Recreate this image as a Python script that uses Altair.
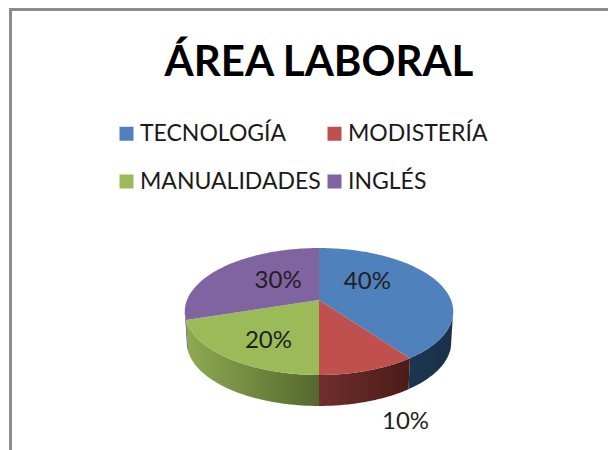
import math
import altair as alt

TITLE = "ÁREA LABORAL"
categories = ["TECNOLOGÍA", "MODISTERÍA", "MANUALIDADES", "INGLÉS"]
values = [40, 10, 20, 30]
colors = ["#4F81BD", "#C0504D", "#9BBB59", "#8064A2"]
wall_left = ["#1D3552", "#702E2C", "#8FAA52", "#4C3A63"]
wall_right = ["#1B3048", "#4A1C1A", "#55682F", "#4C3A63"]
label_nudges = [(-23, -7), (57, 80), (4, 6), (17, 1)]

# 3D perspective of the pie disc
PERSP, RY, RX = 0.181, 61.4, 132.0
DEPTH, BOTTOM_SCALE = 31.0, 0.985
VISIBLE_FROM, VISIBLE_TO = 100.0, 260.0
W, H = 600, 442
projection = dict(type="identity", scale=1, translate=[311, 292])


def disc(theta):
    u, v = math.sin(math.radians(theta)), -math.cos(math.radians(theta))
    w = 1 - PERSP * v
    return RX * u / w, RY * v / w


def arc(a, b):
    n = max(2, int(abs(b - a) / 1.5))
    return [a + (b - a) * i / n for i in range(n + 1)]


def feature(name, ring):
    ring = [list(p) for p in ring]
    return {"type": "Feature", "properties": {"name": name},
            "geometry": {"type": "Polygon", "coordinates": [ring + [ring[0]]]}}


total = sum(values)
bounds = [0.0]
for val in values:
    bounds.append(bounds[-1] + 360.0 * val / total)

tops, layers = [], []
for i, name in enumerate(categories):
    a, b = bounds[i], bounds[i + 1]
    tops.append(feature(name, [(0, 0)] + [disc(t) for t in arc(a, b)]))
    lo, hi = max(a, VISIBLE_FROM), min(b, VISIBLE_TO)
    if hi > lo:
        front = [disc(t) for t in arc(lo, hi)]
        back = [(x * BOTTOM_SCALE, y + DEPTH) for x, y in reversed(front)]
        # the gradient runs left to right on screen
        layers.append(
            alt.Chart(alt.InlineData(values=[feature(name, front + back)]))
            .mark_geoshape(
                strokeWidth=0,
                fill=alt.Gradient(
                    gradient="linear", x1=0, x2=1, y1=0, y2=0,
                    stops=[alt.GradientStop(color=wall_left[i], offset=0),
                           alt.GradientStop(color=wall_right[i], offset=1)],
                ),
            )
            .project(**projection)
        )

top_layer = (
    alt.Chart(alt.InlineData(values=tops))
    .mark_geoshape(strokeWidth=0)
    .encode(
        color=alt.Color(
            "properties.name:N",
            scale=alt.Scale(domain=categories, range=colors),
            sort=None,
            legend=alt.Legend(
                title=None, orient="none", legendX=107, legendY=114, columns=2,
                direction="horizontal",
                symbolType="square", symbolSize=196, symbolStrokeWidth=0,
                labelFont="Lato", labelFontSize=23, labelColor="#1a1a1a",
                labelLimit=300, rowPadding=24, columnPadding=2, labelOffset=2,
                symbolOpacity=1,
            ),
        )
    )
    .project(**projection)
)
layers.append(top_layer)

for i, name in enumerate(categories):
    mid = (bounds[i] + bounds[i + 1]) / 2
    x, y = disc(mid)
    dx, dy = label_nudges[i]
    layers.append(
        alt.Chart(alt.InlineData(values=[{"lon": x * 0.6, "lat": y * 0.6,
                                          "label": f"{values[i]}%"}]))
        .mark_text(font="Lato", fontSize=24, color="#1f1f1f", dx=dx, dy=dy)
        .encode(longitude="lon:Q", latitude="lat:Q", text="label:N")
        .project(**projection)
    )

frame_top = alt.Chart(alt.InlineData(values=[{"a": 0}])).mark_rule(
    color="#8c8c8c", strokeWidth=3
).encode(x=alt.value(1), x2=alt.value(W), y=alt.value(1.5))
frame_left = alt.Chart(alt.InlineData(values=[{"a": 0}])).mark_rule(
    color="#8c8c8c", strokeWidth=3
).encode(x=alt.value(2.5), y=alt.value(0), y2=alt.value(H))

chart = (
    alt.layer(frame_top, frame_left, *layers)
    .properties(
        width=W, height=H, padding=0,
        autosize=alt.AutoSizeParams(type="none"),
        background="white",
        title=alt.TitleParams(
            TITLE, font="Lato", fontSize=42, fontWeight="bold", color="#000000",
            anchor="middle", frame="group", baseline="top", offset=-78, dx=11,
        ),
    )
    .configure_view(stroke=None)
)
chart.save("out.html", embed_options={"renderer": "svg", "actions": False})
